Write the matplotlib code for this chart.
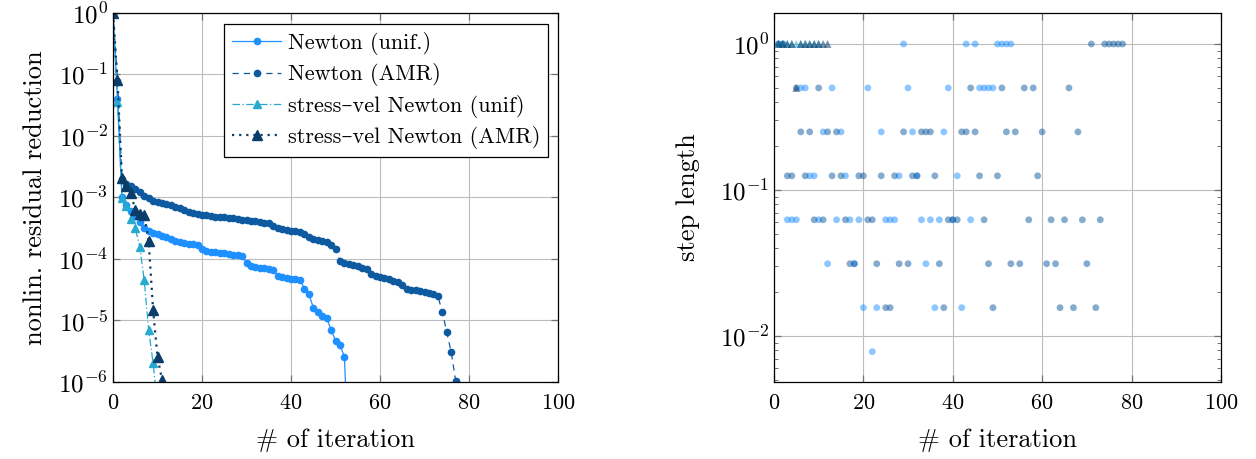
import numpy as np
import matplotlib
matplotlib.use('Agg')
import matplotlib.pyplot as plt
from matplotlib.ticker import LogLocator, NullFormatter, FixedLocator, FuncFormatter

plt.rcParams['font.family'] = ['cmr10', 'DejaVu Serif']
plt.rcParams['mathtext.fontset'] = 'cm'
plt.rcParams['axes.formatter.use_mathtext'] = True

# ---------------- data ----------------
# log10 of nonlinear residual reduction per iteration
newton_unif_log10 = [0, -1.4, -3.0, -3.12, -3.22, -3.30, -3.40, -3.49, -3.54, -3.57,
                     -3.59, -3.62, -3.65, -3.67, -3.71, -3.73, -3.74, -3.75, -3.76, -3.77,
                     -3.83, -3.87, -3.88, -3.89, -3.90, -3.91, -3.92, -3.93, -3.94, -3.95,
                     -4.07, -4.11, -4.13, -4.14, -4.15, -4.16, -4.18, -4.27, -4.30, -4.31,
                     -4.32, -4.33, -4.34, -4.48, -4.57, -4.79, -4.87, -4.93, -4.96, -5.15,
                     -5.33, -5.40, -5.59, -7.5]
newton_amr_log10 = [0, -1.1, -2.70, -2.78, -2.82, -2.87, -2.91, -2.97, -3.01, -3.05,
                    -3.07, -3.09, -3.11, -3.13, -3.15, -3.17, -3.20, -3.23, -3.26, -3.27,
                    -3.28, -3.29, -3.30, -3.31, -3.315, -3.32, -3.33, -3.34, -3.35, -3.36,
                    -3.37, -3.38, -3.39, -3.40, -3.41, -3.42, -3.46, -3.50, -3.52, -3.53,
                    -3.54, -3.55, -3.56, -3.60, -3.65, -3.67, -3.69, -3.70, -3.72, -3.77,
                    -3.84, -4.03, -4.06, -4.08, -4.10, -4.12, -4.14, -4.16, -4.25, -4.27,
                    -4.29, -4.31, -4.33, -4.35, -4.38, -4.42, -4.49, -4.50, -4.51, -4.52,
                    -4.53, -4.55, -4.57, -4.60, -4.87, -5.19, -5.52, -5.98, -6.6]
sv_unif_log10 = [0, -1.44, -3.01, -3.14, -3.35, -3.50, -3.80, -4.34, -5.15, -5.69, -6.4]
sv_amr_log10 = [0, -1.09, -2.68, -2.81, -2.93, -3.21, -3.27, -3.28, -3.70, -4.83, -5.60, -5.96]

# step length per iteration (iterations start at 1)
newton_unif_step = [1, 1, 0.0625, 0.0625, 0.0625, 0.5, 0.5, 0.125, 0.125, 0.0625,
                    0.25, 0.03125, 0.5, 0.0625, 0.25, 0.125, 0.0625, 0.03125, 0.0625, 0.015625,
                    0.5, 0.0078125, 0.015625, 0.25, 0.0625, 0.0625, 0.0625, 0.125, 1, 0.5,
                    0.25, 0.125, 0.0625, 0.03125, 0.0625, 0.015625, 0.0625, 0.25, 0.5, 0.0625,
                    0.125, 0.015625, 1, 0.0625, 1, 0.5, 0.5, 0.5, 0.5, 1,
                    1, 1, 1]
newton_amr_step = [1, 1, 0.125, 0.125, 0.5, 0.25, 0.125, 0.25, 0.0625, 0.5,
                   0.0625, 0.25, 0.125, 0.25, 0.125, 0.0625, 0.03125, 0.03125, 0.125, 0.125,
                   0.0625, 0.0625, 0.03125, 0.125, 0.015625, 0.015625, 0.125, 0.03125, 0.25, 0.03125,
                   0.125, 0.125, 0.25, 0.25, 0.25, 0.125, 0.03125, 0.015625, 0.0625, 0.0625,
                   0.0625, 0.25, 0.25, 0.5, 0.25, 0.125, 0.0625, 0.03125, 0.015625, 0.125,
                   0.5, 0.25, 0.03125, 0.25, 0.03125, 0.5, 0.0625, 0.5, 0.125, 0.25,
                   0.03125, 0.0625, 0.03125, 0.015625, 0.0625, 0.5, 0.015625, 0.25, 0.0625, 0.03125,
                   1, 0.015625, 0.0625, 1, 1, 1, 1, 1]
sv_unif_step = [1, 1, 1, 1, 1, 1, 1, 1, 1, 1]
sv_amr_step = [1, 1, 1, 1, 0.5, 1, 1, 1, 1, 1, 1, 1]

labels = ['Newton (unif.)', 'Newton (AMR)', 'stress–vel Newton (unif)', 'stress–vel Newton (AMR)']
c_nu = '#1e90ff'
c_na = '#0d5aa0'
c_su = '#27a9d0'
c_sa = '#0b3d6b'

fig = plt.figure(figsize=(12.56, 4.59), dpi=100)
ax1 = fig.add_axes([0.0900, 0.1678, 0.3543, 0.8039])
ax2 = fig.add_axes([0.6162, 0.1678, 0.3559, 0.8039])

def res(v):
    return np.power(10.0, np.asarray(v, dtype=float))

ax1.plot(np.arange(len(newton_unif_log10)), res(newton_unif_log10), '-', color=c_nu, lw=0.9,
         marker='o', ms=4.5, label=labels[0])
ax1.plot(np.arange(len(newton_amr_log10)), res(newton_amr_log10), color=c_na, lw=0.9,
         ls=(0, (5, 4)), marker='o', ms=4.5, label=labels[1])
ax1.plot(np.arange(len(sv_unif_log10)), res(sv_unif_log10), color=c_su, lw=0.9,
         ls=(0, (6, 2, 1, 2)), marker='^', ms=6, label=labels[2])
ax1.plot(np.arange(len(sv_amr_log10)), res(sv_amr_log10), color=c_sa, lw=1.6,
         ls=(0, (1, 2.2)), marker='^', ms=7, label=labels[3])

ax1.set_yscale('log')
ax1.set_xlim(0, 100)
ax1.set_ylim(1e-6, 1)
ax1.xaxis.set_major_locator(FixedLocator([0, 20, 40, 60, 80, 100]))
ax1.yaxis.set_major_locator(FixedLocator([1e-6, 1e-5, 1e-4, 1e-3, 1e-2, 1e-1, 1]))
ax1.yaxis.set_minor_locator(FixedLocator([]))
ax1.yaxis.set_major_formatter(FuncFormatter(lambda v, p: r'$10^{%d}$' % int(round(np.log10(v)))))

leg = ax1.legend(loc='upper right', bbox_to_anchor=(0.977, 0.97), fontsize=16,
                 frameon=True, fancybox=False, framealpha=1, edgecolor='black',
                 handlelength=2.2, borderpad=0.35, labelspacing=0.38, handletextpad=0.3,
                 borderaxespad=0.0)
leg.get_frame().set_linewidth(0.9)

# right: step length
ax2.scatter(np.arange(1, len(newton_unif_step) + 1), newton_unif_step, s=24, color=c_nu,
            alpha=0.5, edgecolors='none', zorder=3)
ax2.scatter(np.arange(1, len(newton_amr_step) + 1), newton_amr_step, s=24, color=c_na,
            alpha=0.5, edgecolors='none', zorder=3)
ax2.scatter(np.arange(1, len(sv_unif_step) + 1), sv_unif_step, s=32, marker='^', color=c_su,
            alpha=0.5, edgecolors='none', zorder=3)
ax2.scatter(np.arange(1, len(sv_amr_step) + 1), sv_amr_step, s=32, marker='^', color=c_sa,
            alpha=0.55, edgecolors='none', zorder=3)
ax2.set_yscale('log')
ax2.set_xlim(0, 100)
ax2.set_ylim(0.00484, 1.63)
ax2.xaxis.set_major_locator(FixedLocator([0, 20, 40, 60, 80, 100]))
ax2.yaxis.set_major_locator(FixedLocator([1e-2, 1e-1, 1]))
ax2.yaxis.set_minor_locator(LogLocator(base=10, subs=np.arange(2, 10), numticks=20))
ax2.yaxis.set_minor_formatter(NullFormatter())
ax2.yaxis.set_major_formatter(FuncFormatter(lambda v, p: r'$10^{%d}$' % int(round(np.log10(v)))))

for ax in (ax1, ax2):
    ax.grid(True, which='major', color='#bdbdbd', lw=0.8)
    ax.set_axisbelow(True)
    ax.tick_params(which='both', direction='in', top=True, right=True, color='0.45')
    ax.tick_params(axis='y', labelsize=18)
    ax.tick_params(axis='x', labelsize=16, pad=8)
    ax.tick_params(which='major', length=5, width=0.9)
    ax.tick_params(which='minor', length=3, width=0.7)
    for s in ax.spines.values():
        s.set_linewidth(0.9)
    ax.set_xlabel('# of iteration', fontsize=19, labelpad=11)

ax1.set_ylabel('nonlin. residual reduction', fontsize=19, labelpad=8)
ax2.set_ylabel('step length', fontsize=19, labelpad=14)

fig.savefig('out.png', dpi=100)
